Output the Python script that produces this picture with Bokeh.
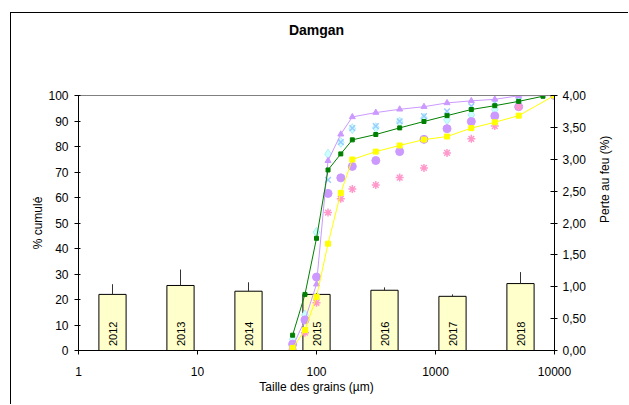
import math

from bokeh.core.properties import value
from bokeh.embed import file_html
from bokeh.models import FixedTicker, LinearAxis, LinearScale, LogAxis, Range1d
from bokeh.plotting import figure
from bokeh.resources import INLINE

# Sieve openings (µm)
sizes = [63, 80, 100, 125, 160, 200, 315, 500, 800, 1250, 2000, 3150, 5000, 10000]
sizes_green = [63, 80, 100, 125, 160, 200, 315, 500, 800, 1250, 2000, 3150, 5000, 8000]

# Cumulative passing (%) for each campaign
cum_tri = [1.5, 12, 26, 74.4, 84.8, 91.6, 93.3, 94.6, 95.6, 97.1, 97.9, 98.5, 99.9, 100]
cum_green = [6, 22, 44, 70.8, 77.1, 82.6, 84.7, 87.3, 89.8, 92.1, 94.5, 96.0, 97.7, 99.7]
cum_yellow = [1, 8, 21, 41.9, 61.8, 74.9, 78.0, 80.4, 82.7, 83.9, 87.2, 89.5, 92.1, 100]
cum_dot = [2.5, 12, 28.8, 61.6, 67.7, 72.2, 74.5, 78.0, 82.8, 87.0, 89.8, 92.0, 95.6, 100]
cum_star = [0.5, 7, 18.7, 54.1, 59.5, 63.3, 64.9, 67.8, 71.6, 77.5, 83.0, 88.0, 95.5, 100]
cum_cross = [1, 8, 21, 66.9, 81.7, 87.2, 88.0, 89.9, 91.9, 93.8, 95.8, 97.3, 99.7, 100]
cum_diamond = [4.4, 13.9, 46.4, 77.0, 81.6, 87.0, 87.4, 89.6, 91.1, 90.5, 92.4, 94.5, 97.5, 100]

# Loss on ignition (%) per year, with upper error
years = ["2012", "2013", "2014", "2015", "2016", "2017", "2018"]
loi = [0.88, 1.02, 0.93, 0.88, 0.945, 0.85, 1.05]
loi_err = [0.16, 0.25, 0.14, 0.02, 0.045, 0.03, 0.18]

# Axis ticks and labels
x_ticks = [1, 10, 100, 1000, 10000]
x_labels = ["1", "10", "100", "1000", "10000"]
y_ticks = [0, 10, 20, 30, 40, 50, 60, 70, 80, 90, 100]
pf_ticks = [0, 0.5, 1.0, 1.5, 2.0, 2.5, 3.0, 3.5, 4.0]
pf_labels = ["0,00", "0,50", "1,00", "1,50", "2,00", "2,50", "3,00", "3,50", "4,00"]

FONT = "Liberation Sans"
W, H = 618, 392

p = figure(
    width=W, height=H,
    title_location=None,
    x_axis_type="log",
    x_range=Range1d(1, 10000), y_range=Range1d(0, 100),
    output_backend="svg", toolbar_location=None,
    min_border_left=67, min_border_right=75, min_border_top=82, min_border_bottom=55,
    margin=(12, 0, 0, 10),
    styles={"border-left": "1px solid #000", "border-top": "1px solid #000"},
)
p.outline_line_color = None
p.grid.visible = False
p.background_fill_color = "white"
p.border_fill_color = "white"

# secondary ranges: evenly spaced year slots and the loss-on-ignition scale
p.extra_x_ranges = {"cat": Range1d(0, len(years))}
p.extra_x_scales = {"cat": LinearScale()}
p.extra_y_ranges = {"pf": Range1d(0, 4)}

# axes
xa = p.xaxis[0]
xa.ticker = FixedTicker(ticks=x_ticks, minor_ticks=[])
xa.major_label_overrides = dict(zip(x_ticks, x_labels))
xa.axis_label = "Taille des grains (µm)"

ya = p.yaxis[0]
ya.ticker = FixedTicker(ticks=y_ticks, minor_ticks=[])
ya.axis_label = "% cumulé"

ra = LinearAxis(y_range_name="pf")
ra.ticker = FixedTicker(ticks=pf_ticks, minor_ticks=[])
ra.major_label_overrides = dict(zip(pf_ticks, pf_labels))
ra.axis_label = "Perte au feu (%)"
if "axis_label_orientation" in ra.properties():
    ra.axis_label_orientation = math.pi / 2
p.add_layout(ra, "right")

# tickless top axis: grey upper border of the plot area, carrying the chart title
ta = LogAxis(ticker=FixedTicker(ticks=[], minor_ticks=[]))
ta.axis_line_color = "#808080"
ta.major_tick_line_color = None
ta.minor_tick_line_color = None
ta.major_tick_in = 0
ta.major_tick_out = 0
ta.major_label_standoff = 0
ta.major_label_text_font_size = "0px"
ta.axis_label = "Damgan"
ta.axis_label_standoff = 58
ta.axis_label_text_font = FONT
ta.axis_label_text_font_size = "14px"
ta.axis_label_text_font_style = "bold"
ta.axis_label_text_color = "black"
p.add_layout(ta, "above")

for ax in (xa, ya, ra):
    ax.axis_line_color = "black"
    ax.major_tick_line_color = "black"
    ax.minor_tick_line_color = None
    ax.major_label_text_font = FONT
    ax.major_label_text_font_size = "12px"
    ax.major_label_text_color = "black"
    ax.axis_label_text_font = FONT
    ax.axis_label_text_font_size = "12px"
    ax.axis_label_text_font_style = "normal"
    ax.axis_label_text_color = "black"

xa.major_tick_in = 0
xa.major_tick_out = 4
xa.major_label_standoff = 12
xa.axis_label_standoff = 1
ya.major_tick_in = 2
ya.major_tick_out = 4
ya.major_label_standoff = 6
ya.axis_label_standoff = 0
ra.major_tick_in = 4
ra.major_tick_out = 3
ra.major_label_standoff = 5
ra.axis_label_standoff = 16

# loss on ignition bars
slot = [i + 0.5 for i in range(len(years))]
p.vbar(x=slot, top=loi, bottom=0, width=0.4, x_range_name="cat", y_range_name="pf",
       fill_color="#FFFFCC", line_color="black", line_width=1)
p.segment(x0=slot, y0=loi, x1=slot, y1=[a + b for a, b in zip(loi, loi_err)],
          x_range_name="cat", y_range_name="pf", line_color="#333333", line_width=1)
p.text(x=slot, y=[0.07] * len(years), text=years, angle=math.pi / 2,
       x_range_name="cat", y_range_name="pf",
       text_font=value(FONT), text_font_size="11px", text_align="left",
       text_baseline="middle", text_color="black")

# grading curves: point series first, then the connected series on top
p.scatter(sizes, cum_diamond, marker="diamond", size=10, fill_color="#CCFFFF", line_color="#B3F0F5")
p.scatter(sizes, cum_dot, marker="circle", size=8, fill_color="#CC99FF", line_color="#CC99FF")
p.scatter(sizes, cum_star, marker="asterisk", size=8, line_color="#FF99CC", line_width=1.5)
p.scatter(sizes, cum_cross, marker="x", size=8, line_color="#99CCFF", line_width=1.5)

p.line(sizes, cum_tri, line_color="#CC99FF", line_width=1)
p.scatter(sizes, cum_tri, marker="triangle", size=6, fill_color="#CC99FF", line_color="#CC99FF")

p.line(sizes_green, cum_green, line_color="#008000", line_width=1)
p.scatter(sizes_green, cum_green, marker="square", size=4, fill_color="#008000", line_color="#008000")

p.line(sizes, cum_yellow, line_color="#FFFF00", line_width=1)
p.scatter(sizes, cum_yellow, marker="square", size=5, fill_color="#FFFF00", line_color="#FFFF00")

open("out.html", "w").write(file_html(p, INLINE))
